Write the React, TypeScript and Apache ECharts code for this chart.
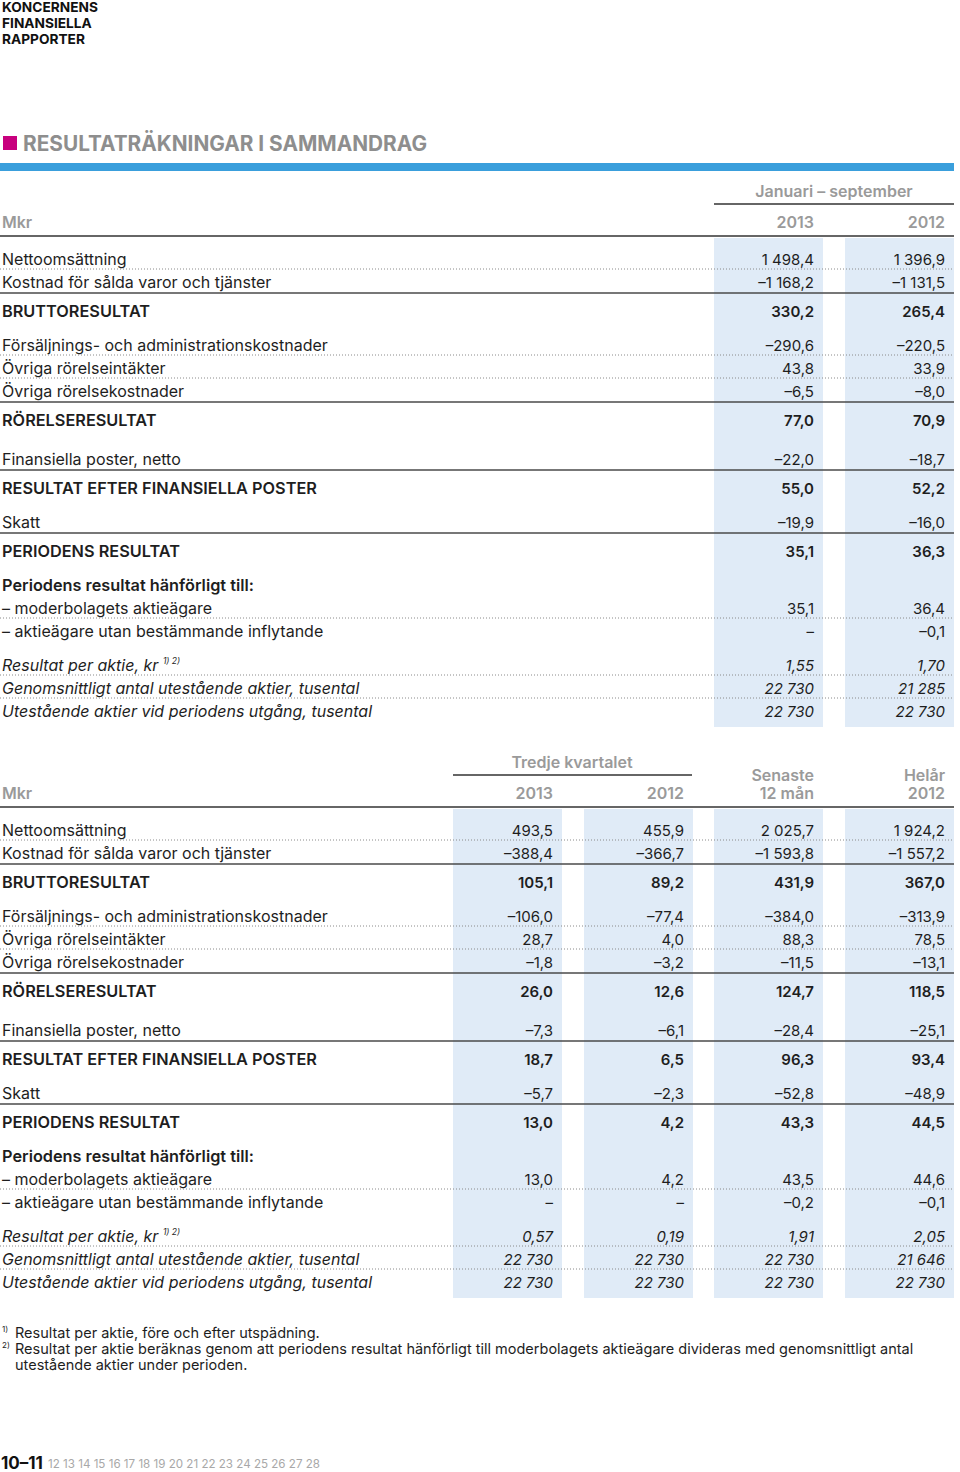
import React, { useEffect, useRef } from "react";
import * as echarts from "echarts";

// ---------- DATA ----------
const rowLabels: string[] = [
  "Nettoomsättning",
  "Kostnad för sålda varor och tjänster",
  "BRUTTORESULTAT",
  "Försäljnings- och administrationskostnader",
  "Övriga rörelseintäkter",
  "Övriga rörelsekostnader",
  "RÖRELSERESULTAT",
  "Finansiella poster, netto",
  "RESULTAT EFTER FINANSIELLA POSTER",
  "Skatt",
  "PERIODENS RESULTAT",
  "Periodens resultat hänförligt till:",
  "– moderbolagets aktieägare",
  "– aktieägare utan bestämmande inflytande",
  "Resultat per aktie, kr",
  "Genomsnittligt antal utestående aktier, tusental",
  "Utestående aktier vid periodens utgång, tusental",
];
// n = normal, b = bold total, h = sub-heading, i = italic
const rowKinds: string[] = ["n", "n", "b", "n", "n", "n", "b", "n", "b", "n", "b", "h", "n", "n", "i", "i", "i"];
const rowDecimals: number[] = [1, 1, 1, 1, 1, 1, 1, 1, 1, 1, 1, 1, 1, 1, 2, 0, 0];
// line drawn below each row: d = dotted, s = solid, "" = none
const rowRules: string[] = ["d", "s", "", "d", "d", "s", "", "s", "", "s", "", "", "d", "", "d", "d", ""];

const U = undefined;
const janSep2013: (number | null | undefined)[] = [1498.4, -1168.2, 330.2, -290.6, 43.8, -6.5, 77.0, -22.0, 55.0, -19.9, 35.1, U, 35.1, null, 1.55, 22730, 22730];
const janSep2012: (number | null | undefined)[] = [1396.9, -1131.5, 265.4, -220.5, 33.9, -8.0, 70.9, -18.7, 52.2, -16.0, 36.3, U, 36.4, -0.1, 1.70, 21285, 22730];
const q3_2013: (number | null | undefined)[] = [493.5, -388.4, 105.1, -106.0, 28.7, -1.8, 26.0, -7.3, 18.7, -5.7, 13.0, U, 13.0, null, 0.57, 22730, 22730];
const q3_2012: (number | null | undefined)[] = [455.9, -366.7, 89.2, -77.4, 4.0, -3.2, 12.6, -6.1, 6.5, -2.3, 4.2, U, 4.2, null, 0.19, 22730, 22730];
const ltm: (number | null | undefined)[] = [2025.7, -1593.8, 431.9, -384.0, 88.3, -11.5, 124.7, -28.4, 96.3, -52.8, 43.3, U, 43.5, -0.2, 1.91, 22730, 22730];
const fy2012: (number | null | undefined)[] = [1924.2, -1557.2, 367.0, -313.9, 78.5, -13.1, 118.5, -25.1, 93.4, -48.9, 44.5, U, 44.6, -0.1, 2.05, 21646, 22730];

const headerLines: string[] = ["KONCERNENS", "FINANSIELLA", "RAPPORTER"];
const title = "RESULTATRÄKNINGAR I SAMMANDRAG";
const footnotes: string[][] = [
  ["1)", "Resultat per aktie, före och efter utspädning."],
  ["2)", "Resultat per aktie beräknas genom att periodens resultat hänförligt till moderbolagets aktieägare divideras med genomsnittligt antal"],
  ["", "utestående aktier under perioden."],
];
const currentPages = "10–11";
const otherPages: string[] = ["12", "13", "14", "15", "16", "17", "18", "19", "20", "21", "22", "23", "24", "25", "26", "27", "28"];

// ---------- LAYOUT ----------
const FONT = "Inter, 'Noto Sans', sans-serif";
const TXT = "#1e1e1e";
const GREY = "#9a9a9a";
const BG = "#e0ebf7";
const RULE = "#4a4a4a";
const DOT = "#8a8a8a";
const rowY1: number[] = [259, 282, 311, 345, 368, 391, 420, 459, 488, 522, 551, 585, 608, 631, 665, 688, 711];
const T2_OFFSET = 571;

function fmt(v: number | null | undefined, d: number): string {
  if (v === undefined) return "";
  if (v === null) return "–";
  const neg = v < 0;
  const s = Math.abs(v).toFixed(d);
  const parts = s.split(".");
  const ip = parts[0].replace(/\B(?=(\d{3})+(?!\d))/g, " ");
  return (neg ? "–" : "") + ip + (parts[1] ? "," + parts[1] : "");
}

function textEl(x: number, y: number, text: string, opts: any = {}) {
  return {
    type: "text",
    x,
    y,
    silent: true,
    style: {
      text,
      fill: opts.fill || TXT,
      fontFamily: FONT,
      fontSize: opts.size || 15,
      fontWeight: opts.weight || "normal",
      fontStyle: opts.style || "normal",
      align: opts.align || "left",
      verticalAlign: "middle",
    },
  };
}
function lineEl(x1: number, x2: number, y: number, dotted: boolean, color?: string, width?: number) {
  return {
    type: "line",
    silent: true,
    shape: { x1, y1: y, x2, y2: y },
    style: {
      stroke: color || (dotted ? DOT : RULE),
      lineWidth: width || (dotted ? 1 : 1.6),
      lineDash: dotted ? [1, 2] : null,
    },
  };
}

function buildTable(els: any[], offset: number, cols: (number | null | undefined)[][], colX: number[]) {
  colX.forEach((x) => {
    els.push({ type: "rect", silent: true, shape: { x, y: 238 + offset, width: 109, height: 489 }, style: { fill: BG } });
  });
  rowLabels.forEach((lab, i) => {
    const y = rowY1[i] + offset;
    const kind = rowKinds[i];
    const weight = kind === "b" || kind === "h" ? 600 : "normal";
    const style = kind === "i" ? "italic" : "normal";
    const labSize = kind === "b" || kind === "h" ? 16.3 : 16;
    if (i === 14) {
      els.push({
        type: "text",
        x: 2,
        y,
        silent: true,
        style: {
          text: "{a|" + lab + " }{s|1) 2)}",
          fill: TXT,
          fontFamily: FONT,
          fontSize: 16,
          fontStyle: "italic",
          verticalAlign: "middle",
          rich: {
            a: { fontFamily: FONT, fontSize: 16, fontStyle: "italic", fill: TXT, lineHeight: 18 },
            s: { fontFamily: FONT, fontSize: 8.5, fontStyle: "italic", fill: TXT, verticalAlign: "top", lineHeight: 18, padding: [0, 0, 8, 0] },
          },
        },
      });
    } else {
      els.push(textEl(2, y, lab, { weight, style, size: labSize }));
    }
    cols.forEach((col, c) => {
      const t = fmt(col[i], rowDecimals[i]);
      if (t) els.push(textEl(colX[c] + 100, y, t, { weight, style, align: "right" }));
    });
    const r = rowRules[i];
    if (r) els.push(lineEl(0, 954, y + (r === "d" ? 10 : 11), r === "d"));
  });
}

function buildOption() {
  const els: any[] = [];
  headerLines.forEach((t, i) => els.push(textEl(2, 7 + i * 16, t, { size: 13.7, weight: 700, fill: "#111" })));
  els.push({ type: "rect", silent: true, shape: { x: 3, y: 136, width: 14, height: 14 }, style: { fill: "#c8007e" } });
  els.push(textEl(23, 143, title, { size: 20.8, weight: 700, fill: "#8e8e8e" }));
  els.push({ type: "rect", silent: true, shape: { x: 0, y: 163, width: 954, height: 8 }, style: { fill: "#3a9fdc" } });

  const H = { weight: 600, fill: GREY, size: 16 };
  // table 1 header
  els.push(textEl(834, 191, "Januari – september", { ...H, align: "center" }));
  els.push(lineEl(714, 954, 204, false, "#333", 1.4));
  els.push(textEl(2, 222, "Mkr", H));
  els.push(textEl(814, 222, "2013", { ...H, align: "right" }));
  els.push(textEl(945, 222, "2012", { ...H, align: "right" }));
  els.push(lineEl(0, 954, 236, false, "#333", 1.6));
  buildTable(els, 0, [janSep2013, janSep2012], [714, 845]);

  // table 2 header
  els.push(textEl(572, 762, "Tredje kvartalet", { ...H, align: "center" }));
  els.push(lineEl(453, 692, 775, false, "#333", 1.4));
  els.push(textEl(814, 775, "Senaste", { ...H, align: "right" }));
  els.push(textEl(945, 775, "Helår", { ...H, align: "right" }));
  els.push(textEl(2, 793, "Mkr", H));
  els.push(textEl(553, 793, "2013", { ...H, align: "right" }));
  els.push(textEl(684, 793, "2012", { ...H, align: "right" }));
  els.push(textEl(814, 793, "12 mån", { ...H, align: "right" }));
  els.push(textEl(945, 793, "2012", { ...H, align: "right" }));
  els.push(lineEl(0, 954, 807, false, "#333", 1.6));
  buildTable(els, T2_OFFSET, [q3_2013, q3_2012, ltm, fy2012], [453, 584, 714, 845]);

  // footnotes
  footnotes.forEach((f, i) => {
    const y = 1332 + i * 16;
    if (f[0]) els.push(textEl(2, y - 3, f[0], { size: 8 }));
    els.push(textEl(15, y, f[1], { size: 14.5 }));
  });

  // page numbers
  els.push(textEl(1, 1463, currentPages, { size: 17, weight: 700, fill: "#111" }));
  els.push(textEl(48, 1464, otherPages.join(" "), { size: 11.6, fill: "#a8a8a8" }));

  return { animation: false, graphic: { elements: els } };
}

export default function App() {
  const ref = useRef<HTMLDivElement>(null);
  useEffect(() => {
    if (!ref.current) return;
    const chart = echarts.init(ref.current, undefined, { renderer: "svg" });
    chart.setOption(buildOption() as any);
    return () => chart.dispose();
  }, []);
  return (
    <div
      ref={ref}
      style={{ position: "absolute", left: 0, top: 0, width: 960, height: 1472, background: "#fff" }}
    />
  );
}
